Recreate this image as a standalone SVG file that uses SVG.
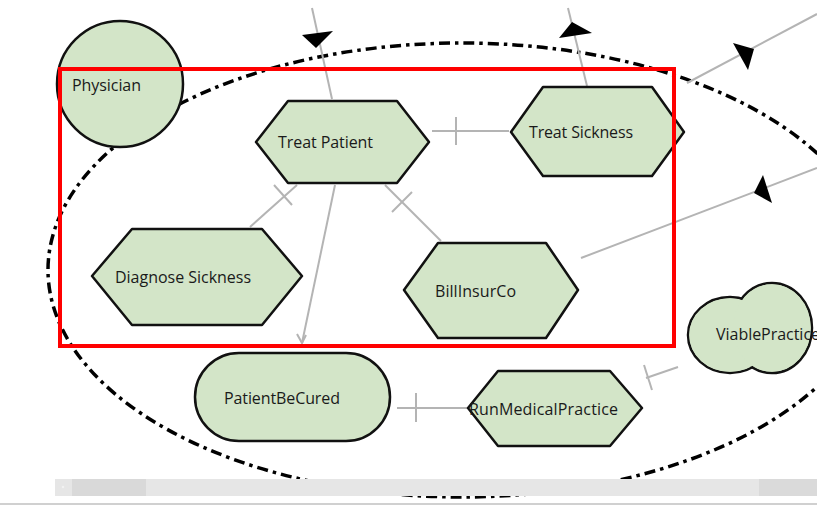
<svg xmlns="http://www.w3.org/2000/svg" width="817" height="506" viewBox="0 0 817 506">
  <style>
    .node { fill: #d3e5c8; stroke: #111; stroke-width: 2.5; stroke-linejoin: round; }
    .lobe { fill: #d3e5c8; stroke: none; }
    .label { font-family: "Open Sans", "Noto Sans", "Liberation Sans", sans-serif; font-size: 16px; fill: #1a1a1a; }
    .link { fill: none; stroke: #b4b4b4; stroke-width: 2; }
    .tick { fill: none; stroke: #b4b4b4; stroke-width: 2; }
    .head { fill: #000; stroke: none; }
    .boundary { fill: none; stroke: #000; stroke-width: 3.5; stroke-dasharray: 11 5 3.5 5; }
  </style>

  <rect x="0" y="0" width="817" height="506" fill="#fff"/>

  <!-- system boundary -->
  <ellipse class="boundary" cx="462" cy="270" rx="414" ry="227"/>

  <!-- connectors -->
  <g id="connectors">
    <!-- incoming to Treat Patient from above -->
    <line class="link" x1="312" y1="8" x2="332" y2="99"/>
    <polygon class="head" points="302,35 333,31 316,48"/>
    <!-- Treat Sickness upward -->
    <line class="link" x1="587" y1="86" x2="568" y2="8"/>
    <polygon class="head" points="572,22 559,38 592,33"/>
    <!-- top right -->
    <line class="link" x1="687" y1="83" x2="817" y2="14"/>
    <polygon class="head" points="754,49 733,43 748,70"/>
    <!-- BillInsurCo to the right -->
    <line class="link" x1="581" y1="258" x2="817" y2="168"/>
    <polygon class="head" points="754,193 763,175 772,203"/>
    <!-- Treat Patient - Treat Sickness -->
    <line class="link" x1="432" y1="131" x2="509" y2="131"/>
    <line class="tick" x1="456" y1="117" x2="456" y2="145"/>
    <!-- Treat Patient - Diagnose Sickness -->
    <line class="link" x1="250" y1="227" x2="297" y2="185"/>
    <line class="tick" x1="274" y1="185" x2="292" y2="205"/>
    <!-- Treat Patient - BillInsurCo -->
    <line class="link" x1="385" y1="185" x2="441" y2="241"/>
    <line class="tick" x1="392" y1="212" x2="412" y2="192"/>
    <!-- Treat Patient to PatientBeCured -->
    <line class="link" x1="335" y1="185" x2="302" y2="343"/>
    <polyline class="link" points="297,334 302,343 306,335"/>
    <!-- PatientBeCured - RunMedicalPractice -->
    <line class="link" x1="397" y1="408" x2="470" y2="408"/>
    <line class="tick" x1="416" y1="393" x2="416" y2="422"/>
    <!-- ViablePractice - RunMedicalPractice -->
    <line class="link" x1="678" y1="367" x2="646" y2="378"/>
    <line class="tick" x1="644" y1="365" x2="652" y2="390"/>
  </g>

  <g id="physician">
    <circle class="node" cx="120" cy="84" r="63"/>
    <text class="label" x="72" y="91" textLength="69">Physician</text>
  </g>

  <g id="treat-patient">
    <polygon class="node" points="256,142 288,101 397,101 429,142 397,183 288,183"/>
    <text class="label" x="278" y="148" textLength="95">Treat Patient</text>
  </g>

  <g id="treat-sickness">
    <polygon class="node" points="511,132 543,87 652,87 684,132 652,176 543,176"/>
    <text class="label" x="529" y="138" textLength="104">Treat Sickness</text>
  </g>

  <g id="diagnose-sickness">
    <polygon class="node" points="92,276 132,229 262,229 302,276 262,325 132,325"/>
    <text class="label" x="115" y="283" textLength="136">Diagnose Sickness</text>
  </g>

  <g id="bill-insur-co">
    <polygon class="node" points="404,290 438,243 546,243 578,290 546,338 438,338"/>
    <text class="label" x="435" y="297" textLength="81">BillInsurCo</text>
  </g>

  <g id="patient-be-cured">
    <rect class="node" x="195" y="353" width="195" height="88" rx="44" ry="44"/>
    <text class="label" x="224" y="404" textLength="116">PatientBeCured</text>
  </g>

  <g id="run-medical-practice">
    <polygon class="node" points="468,408 498,371 610,371 642,408 610,446 498,446"/>
    <text class="label" x="469" y="415" textLength="149">RunMedicalPractice</text>
  </g>

  <g id="viable-practice">
    <ellipse class="node" cx="730" cy="335" rx="42" ry="38"/>
    <ellipse class="node" cx="772" cy="328" rx="40" ry="45"/>
    <ellipse class="lobe" cx="730" cy="335" rx="40.8" ry="36.8"/>
    <ellipse class="lobe" cx="772" cy="328" rx="38.8" ry="43.8"/>
    <text class="label" x="716" y="340" textLength="104">ViablePractice</text>
  </g>

  <!-- highlight frame -->
  <rect x="60" y="69" width="614" height="277" fill="none" stroke="#ff0000" stroke-width="4"/>

  <!-- horizontal scrollbar -->
  <g id="scrollbar">
    <rect x="55" y="479" width="762" height="17" fill="#e6e6e6"/>
    <rect x="72" y="479" width="74" height="17" fill="#d9d9d9"/>
    <rect x="759" y="479" width="58" height="17" fill="#dadada"/>
    <circle cx="63" cy="487" r="1.2" fill="#f2f2f2"/>
    <rect x="0" y="503" width="817" height="2" fill="#d0d0d0"/>
  </g>
</svg>
